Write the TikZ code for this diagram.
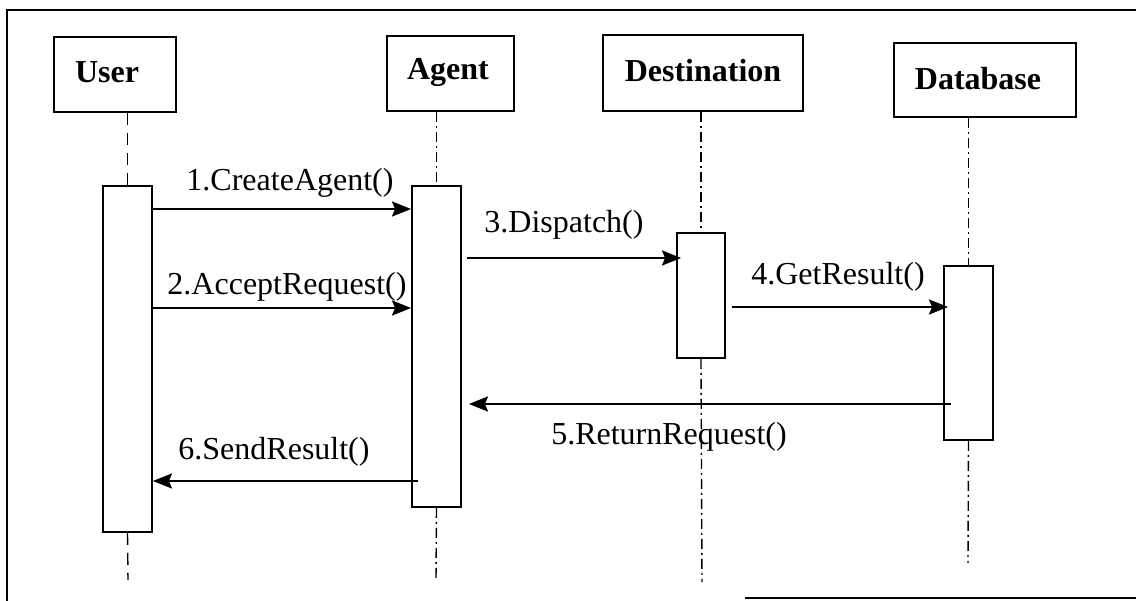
\documentclass[tikz,border=0pt]{standalone}
\usepackage{fontspec}
\setmainfont{Liberation Serif}
\usetikzlibrary{arrows.meta,calc}

\begin{document}
\begin{tikzpicture}[x=1pt,y=-1pt,
  every node/.style={font=\fontsize{32}{37}\selectfont},
  headbox/.style={draw, line width=2pt, inner sep=0pt, font=\fontsize{32}{37}\selectfont\bfseries},
  actbox/.style={draw, line width=1.9pt, fill=white, inner sep=0pt},
  lifedash/.style={line width=1.4pt, dash pattern=on 12pt off 8pt},
  lifedot/.style={line width=1.4pt, dash pattern=on 10pt off 4pt on 2pt off 4pt},
  msg/.style={line width=2.4pt, -{Stealth[length=19pt,width=15pt,inset=3pt]}},
  lbl/.style={inner sep=0pt},
  frameline/.style={line width=2.8pt}]

\useasboundingbox (0,0) rectangle (1136,601);

% outer frame
\draw[frameline] (7,601) -- (7,10) -- (1136,10);
\draw[frameline] (745,598) -- (1136,598);

% object headers
\node[headbox, minimum width=122, minimum height=75] (user) at (115,74.5) {};
\node[headbox, minimum width=127, minimum height=75] (agent) at (450.5,73.5) {};
\node[headbox, minimum width=200, minimum height=76] (dest) at (703,73) {};
\node[headbox, minimum width=182, minimum height=74] (db) at (985,80) {};

% header captions
\node[lbl, font=\fontsize{32}{37}\selectfont\bfseries] (usert) at (107,72) {User};
\node[lbl, font=\fontsize{32}{37}\selectfont\bfseries] (agentt) at (448,72) {Agent};
\node[lbl, font=\fontsize{32}{37}\selectfont\bfseries] (destt) at (703,71) {Destination};
\node[lbl, font=\fontsize{32}{37}\selectfont\bfseries] (dbt) at (978,79) {Database};

% activation bars
\node[actbox, minimum width=49, minimum height=346] (ua) at (127.5,359) {};
\node[actbox, minimum width=49, minimum height=321] (aa) at (436.5,346.5) {};
\node[actbox, minimum width=48, minimum height=125] (da) at (701,295.5) {};
\node[actbox, minimum width=49, minimum height=174] (ba) at (968.5,353) {};

% lifeline ends
\coordinate (uend) at (128,580);
\coordinate (aend) at (436,580);
\coordinate (dend) at (702,582);
\coordinate (bend) at (968,563);

% lifelines
\draw[lifedash] (ua.north |- user.south) -- (ua.north);
\draw[lifedash] (ua.south) -- (uend);
\draw[lifedot] (aa.north |- agent.south) -- (aa.north);
\draw[lifedot] (aa.south) -- (aend);
\draw[lifedot] (da.north |- dest.south) -- (da.north);
\draw[lifedot] (da.south) -- (dend);
\draw[lifedot] (ba.north |- db.south) -- (ba.north);
\draw[lifedot] (ba.south) -- (bend);

% message heights
\coordinate (m1) at (0,209);
\coordinate (m2) at (0,308);
\coordinate (m3) at (0,258);
\coordinate (m4) at (0,307);
\coordinate (m5) at (0,404);
\coordinate (m6) at (0,481);

% messages
\draw[msg] (ua.east |- m1) -- (aa.west |- m1);
\draw[msg] (ua.east |- m2) -- (aa.west |- m2);
\draw[msg] ([xshift=5pt]aa.east |- m3) -- ([xshift=5pt]da.west |- m3);
\draw[msg] ([xshift=6pt]da.east |- m4) -- ([xshift=5pt]ba.west |- m4);
\draw[msg] ([xshift=8pt]ba.west |- m5) -- ([xshift=7pt]aa.east |- m5);
\draw[msg] ([xshift=7pt]aa.west |- m6) -- (ua.east |- m6);

% message labels
\node[lbl] (l1) at (290,183) {1.CreateAgent()};
\node[lbl] (l2) at (287,287) {2.AcceptRequest()};
\node[lbl] (l3) at (564,225) {3.Dispatch()};
\node[lbl] (l4) at (838,277) {4.GetResult()};
\node[lbl] (l5) at (669,437) {5.ReturnRequest()};
\node[lbl] (l6) at (274,452) {6.SendResult()};

\end{tikzpicture}
\end{document}
